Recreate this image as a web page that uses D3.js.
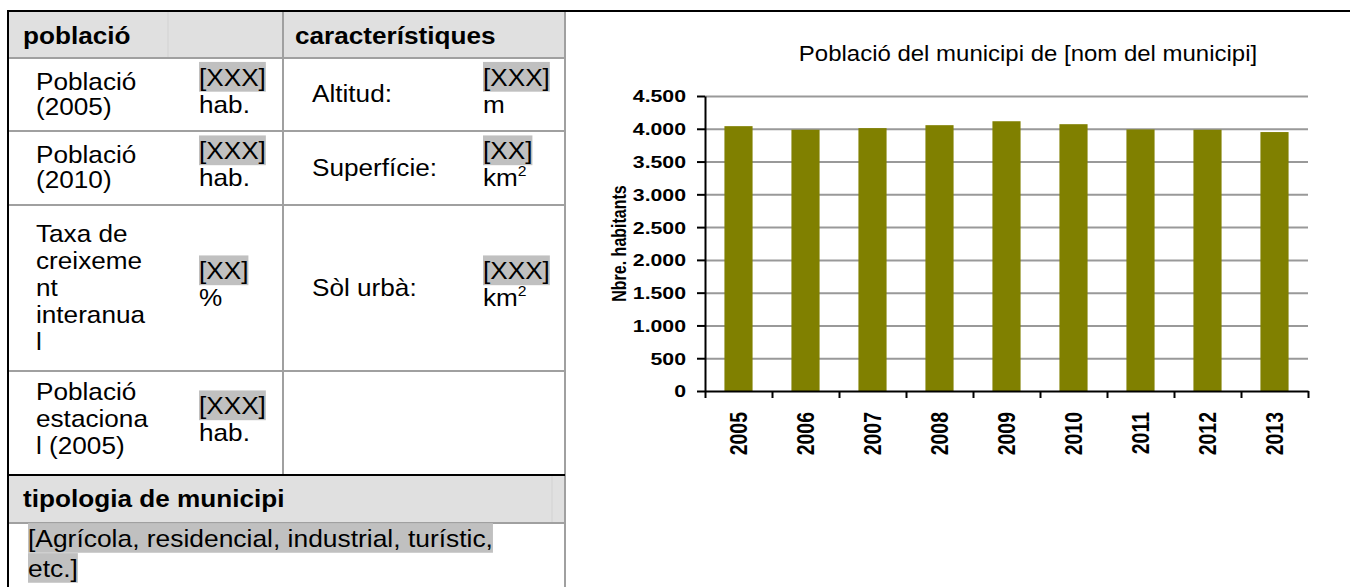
<!DOCTYPE html>
<html>
<head>
<meta charset="utf-8">
<script src="https://cdn.jsdelivr.net/npm/d3@7"></script>
<style>
  html, body { margin: 0; padding: 0; background: #fff; }
  svg { display: block; font-family: 'Liberation Sans', Arial, sans-serif; }
</style>
</head>
<body>
<div class="containers"></div>
<script>
// chart data
const years = ['2005', '2006', '2007', '2008', '2009', '2010', '2011', '2012', '2013']
const population = [4040, 3985, 4010, 4055, 4115, 4070, 3990, 3985, 3950]
const yTicks = [0, 500, 1000, 1500, 2000, 2500, 3000, 3500, 4000, 4500]
const chartTitle = 'Població del municipi de [nom del municipi]'
const yTitle = 'Nbre. habitants'

// table data
const headerCells = ['població', 'característiques']
const rowLabels = [['Població', '(2005)'], ['Població', '(2010)'], ['Taxa de', 'creixeme', 'nt', 'interanua', 'l'], ['Població', 'estaciona', 'l (2005)']]
const rowValues = [['[XXX]', 'hab.'], ['[XXX]', 'hab.'], ['[XX]', '%'], ['[XXX]', 'hab.']]
const featureLabels = [['Altitud:'], ['Superfície:'], ['Sòl urbà:'], []]
const featureValues = [['[XXX]', 'm'], ['[XX]', 'km2'], ['[XXX]', 'km2'], []]
const typologyTitle = 'tipologia de municipi'
const typologyText = ['[Agrícola, residencial, industrial, turístic,', 'etc.]']

const width = 1356
const height = 587

const svg = d3.select('.containers')
  .append('svg')
  .attr('width', width)
  .attr('height', height)
  .attr('viewBox', [0, 0, width, height])

// text helper: each line its own <text>, stretched horizontally like the source
const addLine = (parent, x, y, str, opt) => {
  const g = parent.append('g')
    .attr('transform', `translate(${x},${y}) scale(${opt.sx},1)` + (opt.rotate ? ` rotate(${opt.rotate})` : ''))
  const t = g.append('text')
    .attr('font-size', opt.size)
    .attr('font-weight', opt.bold ? 'bold' : 'normal')
    .attr('text-anchor', opt.anchor || 'start')
    .attr('fill', '#000')
  if (str.endsWith('km2')) {
    t.append('tspan').text(str.slice(0, -1))
    t.append('tspan').attr('font-size', opt.size * 0.6).attr('dy', -opt.size * 0.45).text('2')
  } else {
    t.text(str)
  }
  if (opt.mark) {
    const b = t.node().getBBox()
    g.insert('rect', 'text')
      .attr('x', b.x)
      .attr('y', b.y - 2)
      .attr('width', b.width)
      .attr('height', b.height + 3)
      .attr('fill', '#c0c0c0')
  }
  return g
}

// block of lines centred vertically on cy
const addBlock = (parent, x, cy, lines, opt, markFirst) => {
  const lh = opt.lh
  const y0 = cy - (lines.length - 1) * lh / 2 + opt.size * 0.33
  lines.forEach((l, i) => {
    addLine(parent, x, y0 + i * lh, l, Object.assign({}, opt, { mark: markFirst && i === 0 }))
  })
}

/* ---------------- table ---------------- */
const colX = [8, 168, 283, 475, 565]
const rowY = [12, 58, 131, 205, 371, 475, 523, 587]
const table = svg.append('g').attr('class', 'table')
const tFont = { size: 24, sx: 1.09 }

// header fills
table.append('rect').attr('x', colX[0]).attr('y', rowY[0]).attr('width', colX[4] - colX[0]).attr('height', rowY[1] - rowY[0]).attr('fill', '#e0e0e0')
table.append('rect').attr('x', colX[0]).attr('y', rowY[5]).attr('width', colX[4] - colX[0]).attr('height', rowY[6] - rowY[5]).attr('fill', '#e0e0e0')
table.append('line').attr('x1', colX[1]).attr('x2', colX[1]).attr('y1', rowY[0]).attr('y2', rowY[1]).attr('stroke', '#d2d2d2').attr('stroke-width', 1)
table.append('line').attr('x1', 552).attr('x2', 552).attr('y1', rowY[5]).attr('y2', rowY[6]).attr('stroke', '#d2d2d2').attr('stroke-width', 1)

// grey rules
const grey = '#a0a0a0'
;[rowY[1], rowY[2], rowY[3], rowY[4], rowY[6]].forEach(y => {
  table.append('line').attr('x1', colX[0]).attr('x2', colX[4]).attr('y1', y).attr('y2', y).attr('stroke', grey).attr('stroke-width', 2)
})
table.append('line').attr('x1', colX[2]).attr('x2', colX[2]).attr('y1', rowY[0]).attr('y2', rowY[5]).attr('stroke', grey).attr('stroke-width', 2)
table.append('line').attr('x1', colX[4]).attr('x2', colX[4]).attr('y1', rowY[0]).attr('y2', height).attr('stroke', grey).attr('stroke-width', 2)
// black rules
table.append('line').attr('x1', colX[0]).attr('x2', colX[4]).attr('y1', rowY[5]).attr('y2', rowY[5]).attr('stroke', '#000').attr('stroke-width', 2)
table.append('line').attr('x1', colX[0]).attr('x2', colX[0]).attr('y1', 10).attr('y2', height).attr('stroke', '#000').attr('stroke-width', 2)
svg.append('line').attr('x1', 7).attr('x2', 1350).attr('y1', 11).attr('y2', 11).attr('stroke', '#000').attr('stroke-width', 2)

// header text
addLine(table, 23, 44, headerCells[0], Object.assign({ bold: true }, tFont))
addLine(table, 295, 44, headerCells[1], Object.assign({ bold: true }, tFont))

rowLabels.forEach((lines, i) => {
  const cy = (rowY[i + 1] + rowY[i + 2]) / 2
  const lh = lines.length > 2 ? 27 : 25
  addBlock(table, 36, cy - (i === 3 ? 4 : 0), lines, Object.assign({ lh }, tFont))
  addBlock(table, 199, cy - 3, rowValues[i], Object.assign({ lh: 27 }, tFont), true)
  if (featureLabels[i].length) {
    addBlock(table, 312, cy, featureLabels[i], Object.assign({ lh }, tFont))
    addBlock(table, 483, cy - 3, featureValues[i], Object.assign({ lh: 27 }, tFont), true)
  }
})

addLine(table, 23, 507, typologyTitle, Object.assign({ bold: true }, tFont))
addLine(table, 28, 547, typologyText[0], { size: 24, sx: 1.1, mark: true })
addLine(table, 28, 577, typologyText[1], { size: 24, sx: 1.1, mark: true })

/* ---------------- chart ---------------- */
const plot = { left: 705, right: 1308, top: 96, bottom: 391 }
const fmt = d3.formatLocale({ decimal: ',', thousands: '.', grouping: [3], currency: ['', ' €'] }).format(',')

const x = d3.scaleBand().domain(years).range([plot.left, plot.right])
const y = d3.scaleLinear().domain([0, 4500]).range([plot.bottom, plot.top])
const chart = svg.append('g').attr('class', 'chart')

// gridlines
chart.append('g')
  .attr('transform', `translate(${plot.left},0)`)
  .call(d3.axisLeft(y).tickValues(yTicks.slice(1)).tickSize(-(plot.right - plot.left)).tickFormat(''))
  .call(g => g.select('.domain').remove())
  .call(g => g.selectAll('line').attr('stroke', '#999999').attr('stroke-width', 2))

// bars
chart.append('g')
  .selectAll('rect')
  .data(population)
  .join('rect')
  .attr('x', (d, i) => x(years[i]) + x.bandwidth() * 0.29)
  .attr('width', x.bandwidth() * 0.42)
  .attr('y', d => y(d))
  .attr('height', d => y(0) - y(d))
  .attr('fill', '#808000')

// y axis
chart.append('g')
  .attr('transform', `translate(${plot.left},0)`)
  .call(d3.axisLeft(y).tickValues(yTicks).tickSize(8).tickSizeOuter(0).tickFormat(fmt))
  .call(g => g.select('.domain').attr('stroke', '#000').attr('stroke-width', 2))
  .call(g => g.selectAll('.tick line').attr('stroke', '#000').attr('stroke-width', 2))
  .call(g => g.selectAll('.tick text')
    .attr('x', -19 / 1.25)
    .attr('dy', '0.35em')
    .attr('transform', 'scale(1.25,1)')
    .attr('font-size', 17)
    .attr('font-weight', 'bold')
    .attr('font-family', null)
    .attr('fill', '#000'))

// x axis: ticks at category edges
const edge = d3.scaleLinear().domain([0, years.length]).range([plot.left, plot.right])
chart.append('g')
  .attr('transform', `translate(0,${plot.bottom})`)
  .call(d3.axisBottom(edge).tickValues(d3.range(years.length + 1)).tickSize(7).tickSizeOuter(0).tickFormat(''))
  .call(g => g.select('.domain').attr('stroke', '#000').attr('stroke-width', 2))
  .call(g => g.selectAll('.tick line').attr('stroke', '#000').attr('stroke-width', 2))

// x labels
chart.append('g')
  .attr('transform', `translate(0,${plot.bottom})`)
  .call(d3.axisBottom(x).tickSize(0))
  .call(g => g.select('.domain').remove())
  .call(g => g.selectAll('.tick text')
    .attr('y', null)
    .attr('dy', '0.35em')
    .attr('text-anchor', 'end')
    .attr('transform', 'translate(0,21) scale(1.2,1) rotate(-90)')
    .attr('font-size', 19.5)
    .attr('font-weight', 'bold')
    .attr('font-family', null)
    .attr('fill', '#000'))

// titles
addLine(chart, 1028, 61, chartTitle, { size: 22, sx: 1.09, anchor: 'middle' })
addLine(chart, 626, (plot.top + plot.bottom) / 2, yTitle, { size: 16, sx: 1.25, anchor: 'middle', bold: true, rotate: -90 })
</script>
</body>
</html>
